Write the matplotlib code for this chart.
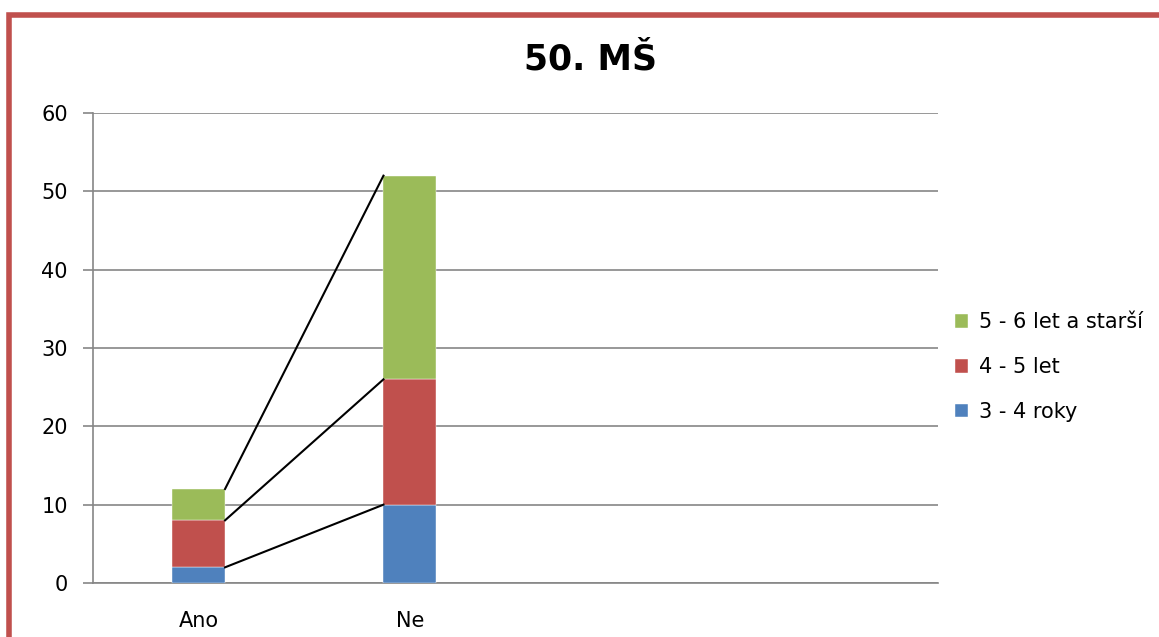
import matplotlib.pyplot as plt
from matplotlib.patches import Rectangle

categories = ["Ano", "Ne", "", ""]
series_names = ["3 - 4 roky", "4 - 5 let", "5 - 6 let a starší"]
series_values = [
    [2, 10],   # 3 - 4 roky
    [6, 16],   # 4 - 5 let
    [4, 26],   # 5 - 6 let a starší
]
colors = ["#4F81BD", "#C0504D", "#9BBB59"]

plt.rcParams['font.family'] = ['DejaVu Sans']

fig = plt.figure(figsize=(11.59, 6.37), dpi=100)
ax = fig.add_axes([93 / 1159, 54 / 637, 845 / 1159, 470 / 637])

width = 0.25
x = list(range(len(series_values[0])))
bottoms = [0] * len(x)
tops = []
for vals, name, col in zip(series_values, series_names, colors):
    ax.bar(x, vals, width, bottom=bottoms, color=col, label=name,
           edgecolor="white", linewidth=0.3, zorder=3)
    bottoms = [b + v for b, v in zip(bottoms, vals)]
    tops.append(list(bottoms))

# series lines between bar tops
for t in tops:
    ax.plot([x[0] + width / 2, x[1] - width / 2], t, color="black",
            lw=1.5, zorder=4)

ax.set_xlim(-0.5, len(categories) - 0.5)
ax.set_ylim(0, 60)
ax.set_yticks(range(0, 61, 10))
ax.set_xticks(range(len(categories)))
ax.set_xticklabels(categories)
ax.tick_params(axis="x", length=0, pad=20, labelsize=15)
ax.tick_params(axis="y", length=7, width=1.2, color="#868686", pad=11,
               labelsize=15)
ax.yaxis.grid(True, color="#868686", lw=1.2, zorder=0)
for s in ["top", "right"]:
    ax.spines[s].set_visible(False)
for s in ["left", "bottom"]:
    ax.spines[s].set_color("#868686")
    ax.spines[s].set_linewidth(1.2)

h, l = ax.get_legend_handles_labels()
fig.legend(h[::-1], l[::-1], loc="center left",
           bbox_to_anchor=(936 / 1159, 1 - 367 / 637), frameon=False,
           fontsize=15, handlelength=0.65, handleheight=0.65,
           labelspacing=1.19, handletextpad=0.5)

fig.text(590 / 1159, 1 - 60 / 637, "50. MŠ", ha="center", va="center",
         fontsize=25, fontweight="bold")

fig.patches.append(Rectangle((8.5 / 1159, -0.1), 1.2, 1.1 - 14.5 / 637,
                             transform=fig.transFigure, fill=False,
                             edgecolor="#C0504D", lw=4, zorder=10))

fig.savefig("out.png", dpi=100)
